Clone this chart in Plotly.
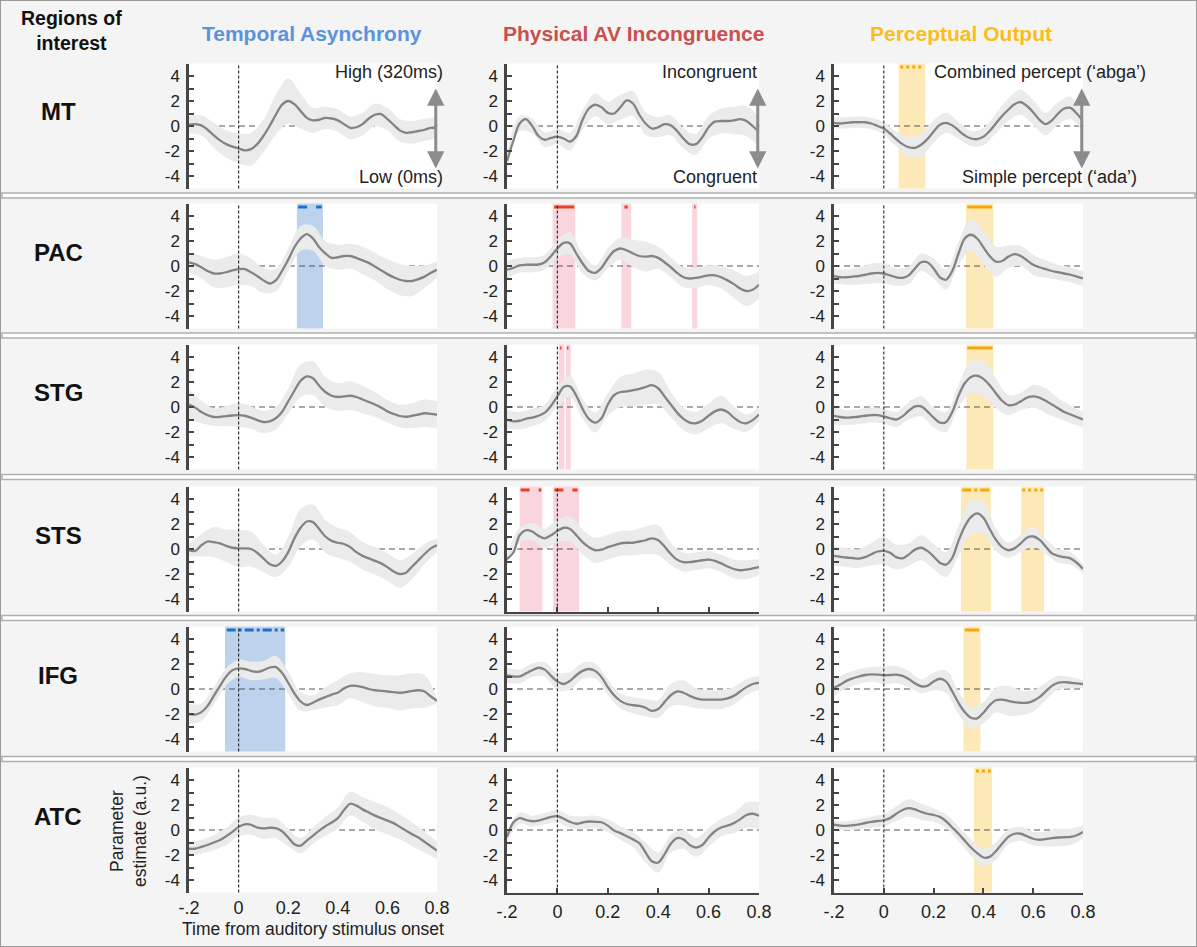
import plotly.graph_objects as go

W, H = 1197, 947

# time axis (s)
T = [round(-0.2 + 0.025 * i, 3) for i in range(41)]
TB = T[::2]

# ---- mean time courses (41 pts, -0.2..0.8 step 0.025) ----
MT_TA_MEAN = [0.1,0.15,0.05,-0.3,-0.75,-1.15,-1.45,-1.65,-1.8,-1.95,-1.85,-1.45,-0.8,0.0,0.9,1.7,2.0,1.75,1.2,0.65,0.45,0.5,0.65,0.6,0.45,0.15,-0.15,-0.1,0.15,0.6,0.9,0.95,0.55,0.1,-0.35,-0.55,-0.5,-0.4,-0.3,-0.15,-0.15]
MT_AV_MEAN = [-2.8,-1.2,0.2,0.55,0.0,-0.8,-1.1,-0.95,-0.85,-1.0,-1.25,-0.8,0.5,1.4,1.7,1.5,1.05,1.0,1.5,2.05,1.8,0.9,0.2,-0.2,-0.1,0.15,0.05,-0.4,-1.0,-1.45,-1.45,-0.9,-0.1,0.35,0.4,0.4,0.45,0.55,0.4,0.0,-0.5]
MT_PO_MEAN = [0.25,0.2,0.25,0.3,0.3,0.3,0.2,0.0,-0.2,-0.6,-1.05,-1.45,-1.7,-1.75,-1.5,-1.05,-0.45,0.1,0.25,0.05,-0.35,-0.75,-1.0,-1.05,-0.85,-0.4,0.2,0.8,1.3,1.75,1.9,1.6,1.1,0.5,0.15,0.45,1.0,1.4,1.45,1.0,0.4]
PAC_TA_MEAN = [0.3,0.15,-0.1,-0.4,-0.6,-0.6,-0.5,-0.35,-0.25,-0.25,-0.5,-0.8,-1.15,-1.4,-1.15,-0.4,0.5,1.5,2.2,2.55,2.2,1.5,1.0,0.65,0.7,0.8,0.8,0.65,0.45,0.25,-0.05,-0.35,-0.65,-0.9,-1.1,-1.2,-1.2,-1.05,-0.85,-0.55,-0.3]
PAC_AV_MEAN = [-0.3,-0.15,0.05,0.1,0.1,0.12,0.3,0.8,1.4,1.85,1.8,1.0,0.2,-0.4,-0.55,-0.15,0.6,1.2,1.4,1.25,1.0,0.8,0.75,0.8,0.65,0.3,-0.1,-0.55,-0.9,-1.0,-0.95,-0.85,-0.75,-0.75,-0.9,-1.15,-1.45,-1.8,-2.0,-1.9,-1.5]
PAC_PO_MEAN = [-0.8,-0.9,-0.9,-0.85,-0.8,-0.7,-0.6,-0.55,-0.6,-0.75,-0.9,-0.95,-0.75,-0.2,0.3,0.3,-0.2,-0.9,-1.1,-0.4,1.0,2.2,2.5,2.2,1.5,0.8,0.35,0.4,0.75,0.95,0.8,0.45,0.1,-0.1,-0.25,-0.4,-0.5,-0.6,-0.7,-0.85,-1.0]
STG_TA_MEAN = [0.2,-0.05,-0.4,-0.65,-0.8,-0.8,-0.73,-0.68,-0.65,-0.7,-0.85,-1.05,-1.2,-1.15,-0.9,-0.4,0.45,1.3,2.1,2.45,2.3,1.7,1.2,0.9,0.8,0.85,0.9,0.8,0.6,0.4,0.2,-0.05,-0.35,-0.55,-0.72,-0.78,-0.7,-0.6,-0.5,-0.55,-0.62]
STG_AV_MEAN = [-1.0,-1.15,-1.1,-0.95,-0.85,-0.7,-0.45,0.1,0.85,1.6,1.65,0.9,-0.15,-0.95,-1.25,-0.9,0.2,0.95,1.2,1.25,1.35,1.45,1.6,1.75,1.5,0.85,0.2,-0.45,-0.95,-1.25,-1.3,-1.1,-0.7,-0.35,-0.2,-0.4,-0.85,-1.2,-1.3,-1.05,-0.6]
STG_PO_MEAN = [-0.7,-0.8,-0.85,-0.82,-0.78,-0.7,-0.65,-0.65,-0.75,-0.9,-1.0,-0.75,-0.3,0.05,0.05,-0.35,-0.85,-1.25,-1.2,-0.4,0.9,1.9,2.4,2.5,2.25,1.75,1.1,0.5,0.15,0.2,0.45,0.75,0.85,0.75,0.5,0.2,-0.1,-0.4,-0.6,-0.8,-1.0]
STS_TA_MEAN = [-0.1,-0.15,0.3,0.6,0.55,0.45,0.25,0.1,0.05,0.05,0.0,-0.3,-0.75,-1.2,-1.35,-1.0,-0.25,0.85,1.7,2.2,2.15,1.6,1.0,0.65,0.5,0.4,0.15,-0.25,-0.55,-0.75,-0.95,-1.15,-1.45,-1.8,-2.0,-1.9,-1.4,-0.9,-0.4,0.05,0.3]
STS_AV_MEAN = [-0.8,-0.3,1.1,1.5,1.4,1.05,0.85,1.1,1.45,1.7,1.6,1.1,0.55,0.15,-0.1,-0.05,0.15,0.3,0.45,0.5,0.5,0.6,0.7,0.85,0.7,0.2,-0.4,-0.85,-1.05,-1.05,-0.98,-0.9,-0.85,-0.95,-1.15,-1.4,-1.6,-1.7,-1.65,-1.55,-1.45]
STS_PO_MEAN = [-0.55,-0.62,-0.68,-0.72,-0.77,-0.65,-0.42,-0.2,-0.15,-0.3,-0.65,-0.75,-0.45,-0.05,0.1,-0.15,-0.6,-1.1,-1.25,-0.7,0.65,1.8,2.55,2.85,2.5,1.6,0.75,0.15,-0.1,0.05,0.45,0.9,1.0,0.75,0.2,-0.35,-0.55,-0.65,-0.75,-1.1,-1.6]
IFG_TA_MEAN = [-2.0,-2.05,-1.85,-1.35,-0.55,0.25,1.0,1.5,1.65,1.6,1.45,1.37,1.5,1.72,1.75,1.3,0.5,-0.35,-1.0,-1.28,-1.1,-0.85,-0.65,-0.45,-0.3,0.05,0.25,0.25,0.15,0.0,-0.1,-0.15,-0.2,-0.25,-0.3,-0.25,-0.15,-0.1,-0.2,-0.6,-0.95]
IFG_AV_MEAN = [1.1,1.0,1.0,1.25,1.5,1.7,1.55,1.05,0.6,0.4,0.65,1.1,1.45,1.6,1.45,0.95,0.15,-0.5,-0.95,-1.2,-1.3,-1.35,-1.5,-1.75,-1.6,-1.05,-0.5,-0.2,-0.3,-0.55,-0.75,-0.85,-0.85,-0.85,-0.85,-0.75,-0.55,-0.2,0.15,0.4,0.5]
IFG_PO_MEAN = [0.1,0.35,0.65,0.85,1.0,1.12,1.17,1.15,1.1,1.12,1.15,1.05,0.8,0.45,0.22,0.25,0.6,0.82,0.6,-0.2,-1.1,-1.85,-2.3,-2.35,-1.9,-1.3,-0.9,-0.85,-0.95,-1.05,-1.1,-1.1,-0.95,-0.65,-0.2,0.25,0.5,0.55,0.5,0.45,0.4]
ATC_TA_MEAN = [-1.5,-1.5,-1.35,-1.2,-1.0,-0.8,-0.5,-0.15,0.25,0.45,0.42,0.2,0.13,0.18,0.15,-0.1,-0.6,-1.15,-1.25,-0.85,-0.45,-0.05,0.3,0.6,0.95,1.6,2.1,1.95,1.65,1.4,1.15,0.95,0.75,0.55,0.25,-0.05,-0.35,-0.6,-0.95,-1.3,-1.65]
ATC_AV_MEAN = [-0.55,0.6,0.95,0.8,0.7,0.75,0.9,1.05,1.1,0.9,0.65,0.5,0.6,0.68,0.65,0.62,0.35,-0.05,-0.25,-0.5,-0.75,-1.05,-1.8,-2.5,-2.6,-1.95,-1.1,-0.65,-0.75,-1.2,-1.4,-1.2,-0.6,-0.1,0.2,0.35,0.55,0.85,1.2,1.3,1.15]
ATC_PO_MEAN = [0.42,0.35,0.33,0.38,0.45,0.56,0.65,0.72,0.78,0.95,1.3,1.6,1.75,1.65,1.45,1.3,1.2,1.05,0.7,0.2,-0.3,-0.85,-1.4,-1.85,-2.2,-2.15,-1.7,-1.1,-0.55,-0.3,-0.3,-0.5,-0.7,-0.78,-0.72,-0.65,-0.6,-0.58,-0.55,-0.42,-0.15]

# ---- band half-widths (21 pts, -0.2..0.8 step 0.05) ----
MT_TA_HW = [0.7,0.8,1.0,1.1,1.2,1.3,1.3,1.6,1.8,1.4,1.0,0.9,0.9,0.9,0.9,0.9,0.9,0.9,0.9,0.9,0.85]
MT_AV_HW = [0.6,0.6,0.6,0.6,0.6,0.7,0.8,0.9,0.9,1.0,1.0,0.9,0.8,0.8,0.8,0.85,0.9,1.0,1.1,1.2,1.2]
MT_PO_HW = [0.45,0.45,0.45,0.45,0.5,0.6,0.8,0.9,0.9,0.8,0.7,0.6,0.7,0.8,0.9,1.0,1.0,0.9,0.9,0.9,0.9]
PAC_TA_HW = [0.8,0.9,1.1,1.2,1.25,1.1,1.0,0.9,0.9,1.0,1.0,1.0,1.0,1.0,1.1,1.1,1.2,1.25,1.2,0.9,0.65]
PAC_AV_HW = [0.7,0.6,0.6,0.6,0.7,0.9,0.8,0.6,0.8,0.9,1.1,1.2,0.9,0.8,0.8,0.8,0.8,0.9,1.1,1.2,1.1]
PAC_PO_HW = [0.6,0.6,0.7,0.8,0.8,0.7,0.7,0.7,0.8,0.8,0.9,1.3,1.4,1.2,0.9,0.8,0.8,0.7,0.6,0.6,0.6]
STG_TA_HW = [1.2,0.9,0.7,0.8,0.95,0.9,0.9,0.9,1.0,1.3,1.35,1.2,1.1,1.15,1.1,1.0,0.9,0.9,1.0,1.1,1.1]
STG_AV_HW = [0.75,0.7,0.7,0.65,0.8,0.85,0.8,0.8,0.9,1.2,1.3,1.4,1.3,1.0,0.9,0.9,1.0,1.1,0.9,0.7,0.55]
STG_PO_HW = [0.7,0.6,0.6,0.6,0.6,0.6,0.7,0.8,0.8,0.8,0.9,1.3,1.4,1.2,0.8,0.7,0.9,1.0,0.8,0.7,0.6]
STS_TA_HW = [0.5,0.9,1.2,1.3,1.5,1.4,1.1,0.9,1.2,1.5,1.4,1.3,1.2,1.2,1.1,1.1,1.1,1.1,1.0,0.8,0.55]
STS_AV_HW = [0.3,0.6,0.7,0.8,0.9,1.0,1.0,1.0,1.0,1.0,1.0,1.1,1.2,0.9,0.75,0.7,0.7,0.7,0.75,0.75,0.65]
STS_PO_HW = [0.8,0.75,0.75,0.9,1.1,1.0,0.9,1.0,1.0,1.0,1.2,1.4,1.3,0.9,0.6,0.7,0.8,0.6,0.55,0.5,0.35]
IFG_TA_HW = [0.8,0.7,0.7,0.7,0.7,0.75,0.75,0.9,0.9,0.75,0.6,0.8,1.0,1.0,1.2,1.3,1.3,1.4,1.4,1.3,0.2]
IFG_AV_HW = [0.6,0.55,0.55,0.6,0.7,0.7,0.65,0.6,0.6,0.6,0.65,0.7,0.7,0.9,1.0,0.8,0.75,0.75,0.7,0.65,0.55]
IFG_PO_HW = [0.7,0.6,0.6,0.6,0.7,0.7,0.65,0.55,0.7,0.9,0.9,0.85,0.85,1.0,1.2,1.0,0.85,0.7,0.55,0.45,0.3]
ATC_TA_HW = [0.55,0.55,0.6,0.7,0.75,0.8,0.85,0.8,0.7,0.6,0.65,0.75,0.85,0.95,1.0,1.1,1.1,1.0,0.95,0.85,0.7]
ATC_AV_HW = [0.4,0.45,0.45,0.45,0.5,0.5,0.5,0.5,0.5,0.55,0.6,0.8,0.8,0.7,0.75,0.75,0.75,0.7,0.8,1.0,1.1]
ATC_PO_HW = [0.35,0.35,0.4,0.45,0.5,0.6,0.7,0.65,0.55,0.55,0.6,0.65,0.7,0.7,0.6,0.55,0.55,0.6,0.7,0.65,0.55]

# ---- significant windows (s) and top markers (start, end, dash) ----
MT_PO_SIG = [(0.059, 0.167)]
MT_PO_MARK = [(0.066, 0.16, "dot")]
PAC_TA_SIG = [(0.235, 0.34)]
PAC_TA_MARK = [(0.24, 0.335, "dash")]
PAC_AV_SIG = [(-0.019, 0.071), (0.254, 0.293), (0.535, 0.555)]
PAC_AV_MARK = [(-0.013, 0.067, "solid"), (0.266, 0.279, "solid"), (0.543, 0.548, "solid")]
PAC_PO_SIG = [(0.33, 0.44)]
PAC_PO_MARK = [(0.335, 0.435, "solid")]
STG_AV_SIG = [(0.005, 0.028), (0.033, 0.053)]
STG_AV_MARK = [(0.01, 0.016, "solid"), (0.038, 0.044, "solid")]
STG_PO_SIG = [(0.332, 0.44)]
STG_PO_MARK = [(0.335, 0.437, "solid")]
STS_AV_SIG = [(-0.15, -0.06), (-0.017, 0.086)]
STS_AV_MARK = [(-0.146, -0.064, "dash"), (-0.012, 0.08, "dash")]
STS_PO_SIG = [(0.31, 0.43), (0.552, 0.644)]
STS_PO_MARK = [(0.315, 0.428, "dashdot"), (0.556, 0.64, "dot")]
IFG_TA_SIG = [(-0.055, 0.188)]
IFG_TA_MARK = [(-0.048, 0.184, "dashdot")]
IFG_PO_SIG = [(0.32, 0.388)]
IFG_PO_MARK = [(0.325, 0.383, "solid")]
ATC_PO_SIG = [(0.362, 0.435)]
ATC_PO_MARK = [(0.37, 0.43, "dot")]

ROWS = ["MT", "PAC", "STG", "STS", "IFG", "ATC"]
COL_TITLES = ["Temporal Asynchrony", "Physical AV Incongruence", "Perceptual Output"]
X_TICKS = [-0.2, 0, 0.2, 0.4, 0.6, 0.8]
X_TICKTEXT = ["-.2", "0", "0.2", "0.4", "0.6", "0.8"]
Y_TICKS = [-4, -2, 0, 2, 4]

MEANS = [
    [MT_TA_MEAN, MT_AV_MEAN, MT_PO_MEAN],
    [PAC_TA_MEAN, PAC_AV_MEAN, PAC_PO_MEAN],
    [STG_TA_MEAN, STG_AV_MEAN, STG_PO_MEAN],
    [STS_TA_MEAN, STS_AV_MEAN, STS_PO_MEAN],
    [IFG_TA_MEAN, IFG_AV_MEAN, IFG_PO_MEAN],
    [ATC_TA_MEAN, ATC_AV_MEAN, ATC_PO_MEAN],
]
HWS = [
    [MT_TA_HW, MT_AV_HW, MT_PO_HW],
    [PAC_TA_HW, PAC_AV_HW, PAC_PO_HW],
    [STG_TA_HW, STG_AV_HW, STG_PO_HW],
    [STS_TA_HW, STS_AV_HW, STS_PO_HW],
    [IFG_TA_HW, IFG_AV_HW, IFG_PO_HW],
    [ATC_TA_HW, ATC_AV_HW, ATC_PO_HW],
]
SIGS = {(0, 2): MT_PO_SIG, (1, 0): PAC_TA_SIG, (1, 1): PAC_AV_SIG, (1, 2): PAC_PO_SIG,
        (2, 1): STG_AV_SIG, (2, 2): STG_PO_SIG, (3, 1): STS_AV_SIG, (3, 2): STS_PO_SIG,
        (4, 0): IFG_TA_SIG, (4, 2): IFG_PO_SIG, (5, 2): ATC_PO_SIG}
MARKS = {(0, 2): MT_PO_MARK, (1, 0): PAC_TA_MARK, (1, 1): PAC_AV_MARK, (1, 2): PAC_PO_MARK,
         (2, 1): STG_AV_MARK, (2, 2): STG_PO_MARK, (3, 1): STS_AV_MARK, (3, 2): STS_PO_MARK,
         (4, 0): IFG_TA_MARK, (4, 2): IFG_PO_MARK, (5, 2): ATC_PO_MARK}

for r in range(6):
    for c in range(3):
        assert len(MEANS[r][c]) == 41, (ROWS[r], c, len(MEANS[r][c]))
        assert len(HWS[r][c]) == 21, (ROWS[r], c, len(HWS[r][c]))

# ---- styling / layout geometry ----
FONT = "Liberation Sans, Arial, Helvetica, sans-serif"
TITLE_COLORS = ["#5b93da", "#c9504e", "#fbbd18"]
RECT_COLORS = ["#bdd2ec", "#f9d5dd", "#fde9b8"]
MARK_COLORS = ["#1a70c2", "#e8411f", "#f5a70a"]
BAND = "#ebebeb"
LINE = "#838383"
AXIS = "#454545"
COL_PX = [(189, 437), (507, 759), (834, 1083)]
ROW_ZERO_PX = [126, 266, 407, 549, 689, 830]
HALF = 62.5
SEPS = [195.5, 335.5, 477, 618, 759]


def pxx(x):
    return x / W


def pxy(y):
    return 1 - y / H


fig = go.Figure()
shapes = []
annotations = []
layout_axes = {}

for r in range(6):
    for c in range(3):
        n = r * 3 + c + 1
        xr = "x" if n == 1 else f"x{n}"
        yr = "y" if n == 1 else f"y{n}"
        xa = "xaxis" if n == 1 else f"xaxis{n}"
        ya = "yaxis" if n == 1 else f"yaxis{n}"
        x0, x1 = COL_PX[c]
        z = ROW_ZERO_PX[r]
        bottom = r == 5
        xline = (bottom and c > 0) or (r == 3 and c == 1)
        layout_axes[xa] = dict(
            domain=[pxx(x0), pxx(x1)], range=[-0.2, 0.8], anchor=yr, automargin=False,
            showgrid=False, zeroline=False, fixedrange=True,
            showline=xline, linecolor=AXIS, linewidth=2,
            ticks="inside" if xline else "", ticklen=5, tickwidth=1.5, tickcolor=AXIS,
            tickvals=X_TICKS, ticktext=X_TICKTEXT, showticklabels=bottom,
            ticklabelstandoff=2,
            tickfont=dict(size=18, color="#222", family=FONT),
        )
        layout_axes[ya] = dict(
            domain=[pxy(z + HALF), pxy(z - HALF)], range=[-5, 5], anchor=xr, automargin=False,
            showgrid=False, zeroline=False, fixedrange=True,
            showline=True, linecolor=AXIS, linewidth=2.5,
            ticks="inside", ticklen=5, tickwidth=1.5, tickcolor=AXIS,
            tickvals=Y_TICKS, ticktext=[str(v) for v in Y_TICKS],
            ticklabelstandoff=3,
            tickfont=dict(size=17, color="#222", family=FONT),
            minor=dict(tickvals=[-5, -3, -1, 1, 3, 5], ticks="inside", ticklen=5,
                       tickwidth=1.5, tickcolor=AXIS),
        )
        # significance windows
        for (s0, s1) in SIGS.get((r, c), []):
            shapes.append(dict(type="rect", xref=xr, yref=f"{yr} domain", x0=s0, x1=s1,
                               y0=0, y1=1, fillcolor=RECT_COLORS[c], line=dict(width=0),
                               layer="below"))
        # zero line
        shapes.append(dict(type="line", xref=f"{xr} domain", yref=yr, x0=0, x1=1, y0=0, y1=0,
                           line=dict(color="#555", width=1.2, dash="6px,4px"), layer="below"))
        # onset line
        shapes.append(dict(type="line", xref=xr, yref=f"{yr} domain", x0=0, x1=0, y0=0, y1=1,
                           line=dict(color="#333", width=1.2, dash="3px,2px"), layer="above"))

        mean = MEANS[r][c]
        hw = HWS[r][c]
        mb = mean[::2]
        lo = [m - h for m, h in zip(mb, hw)]
        hi = [m + h for m, h in zip(mb, hw)]
        fig.add_trace(go.Scatter(x=TB, y=lo, mode="lines", line=dict(width=0, shape="spline"),
                                 xaxis=xr, yaxis=yr, showlegend=False, hoverinfo="skip"))
        fig.add_trace(go.Scatter(x=TB, y=hi, mode="lines", line=dict(width=0, shape="spline"),
                                 fill="tonexty", fillcolor=BAND,
                                 xaxis=xr, yaxis=yr, showlegend=False, hoverinfo="skip"))
        fig.add_trace(go.Scatter(x=T, y=mean, mode="lines",
                                 line=dict(color=LINE, width=2.3, shape="spline", smoothing=0.9),
                                 xaxis=xr, yaxis=yr, showlegend=False))
        for (m0, m1, dsh) in MARKS.get((r, c), []):
            fig.add_trace(go.Scatter(x=[m0, m1], y=[4.72, 4.72], mode="lines",
                                     line=dict(color=MARK_COLORS[c], width=3, dash=dsh),
                                     xaxis=xr, yaxis=yr, showlegend=False))

# ---- MT-row labels and arrows ----
MT_LABELS = [("High (320ms)", "Low (0ms)", 445, 445),
             ("Incongruent", "Congruent", 759, 759),
             ("Combined percept (\u2018abga\u2019)", "Simple percept (\u2018ada\u2019)", 1148, 1139)]
for c, (top, bot, xt, xb) in enumerate(MT_LABELS):
    annotations.append(dict(text=top, xref="paper", yref="paper", x=pxx(xt), y=pxy(72),
                            xanchor="right", yanchor="middle", showarrow=False,
                            font=dict(size=18, color="#222", family=FONT)))
    annotations.append(dict(text=bot, xref="paper", yref="paper", x=pxx(xb), y=pxy(177),
                            xanchor="right", yanchor="middle", showarrow=False,
                            font=dict(size=18, color="#222", family=FONT)))
    n = c + 1
    xr = "x" if n == 1 else f"x{n}"
    yr = "y" if n == 1 else f"y{n}"
    for tip in (3.0, -3.4):
        annotations.append(dict(text="", x=0.795, y=tip, ax=0.795, ay=-0.2 if tip > 0 else 0.2,
                                xref=xr, yref=yr, axref=xr, ayref=yr, showarrow=True,
                                arrowhead=2, arrowsize=1.15, arrowwidth=3, arrowcolor="#8c8c8c"))

# ---- column titles ----
for c, (title, col) in enumerate(zip(COL_TITLES, TITLE_COLORS)):
    cx = [312, 633, 961][c]
    annotations.append(dict(text=f"<b>{title}</b>", xref="paper", yref="paper",
                            x=pxx(cx), y=pxy(33), xanchor="center", yanchor="middle",
                            showarrow=False, font=dict(size=21, color=col, family=FONT)))

annotations.append(dict(text="<b>Regions of<br>interest</b>", xref="paper", yref="paper",
                        x=pxx(71), y=pxy(31), xanchor="center", yanchor="middle",
                        showarrow=False, font=dict(size=19.5, color="#111", family=FONT)))

for r, roi in enumerate(ROWS):
    annotations.append(dict(text=f"<b>{roi}</b>", xref="paper", yref="paper",
                            x=pxx(58), y=pxy(ROW_ZERO_PX[r] - 14), xanchor="center",
                            yanchor="middle", showarrow=False,
                            font=dict(size=24, color="#111", family=FONT)))

annotations.append(dict(text="Parameter<br>estimate (a.u.)", xref="paper", yref="paper",
                        x=pxx(128), y=pxy(831), xanchor="center", yanchor="middle",
                        textangle=-90, showarrow=False,
                        font=dict(size=17.5, color="#222", family=FONT)))
annotations.append(dict(text="Time from auditory stimulus onset", xref="paper", yref="paper",
                        x=pxx(313), y=pxy(929), xanchor="center", yanchor="middle",
                        showarrow=False, font=dict(size=17.5, color="#222", family=FONT)))

# ---- row separators and frame ----
for s in SEPS:
    shapes.append(dict(type="rect", xref="paper", yref="paper", x0=pxx(2), x1=pxx(W - 2),
                       y0=pxy(s + 2.5), y1=pxy(s - 2.5), fillcolor="#ffffff",
                       line=dict(color="#b0b0b0", width=1.5), layer="above"))
shapes.append(dict(type="rect", xref="paper", yref="paper", x0=0, x1=1, y0=0, y1=1,
                   line=dict(color="#9a9a9a", width=2), fillcolor="rgba(0,0,0,0)", layer="above"))

fig.update_layout(
    width=W, height=H, autosize=False,
    margin=dict(l=0, r=0, t=0, b=0, pad=0),
    paper_bgcolor="#f4f4f4", plot_bgcolor="#ffffff",
    font=dict(family=FONT, color="#222"),
    showlegend=False, hovermode=False,
    shapes=shapes, annotations=annotations,
    **layout_axes,
)

fig.write_html("out.html", config={"responsive": False, "displayModeBar": False},
               post_script="document.body.style.margin='0px';document.body.style.overflow='hidden';")
